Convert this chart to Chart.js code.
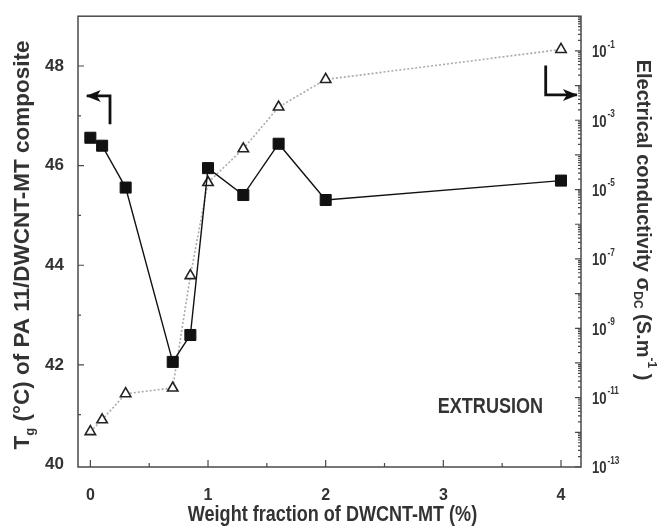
<!DOCTYPE html>
<html>
<head>
<meta charset="utf-8">
<script src="https://cdn.jsdelivr.net/npm/chart.js@4.4.0/dist/chart.umd.min.js"></script>
<style>
  html, body { margin: 0; padding: 0; background: #fff; }
</style>
</head>
<body>
<canvas id="chart" width="668" height="527"></canvas>
<script>
// weight fraction of DWCNT-MT (%)
const weightFraction = [0, 0.1, 0.3, 0.7, 0.85, 1.0, 1.3, 1.6, 2.0, 4.0];
// Tg (°C), left axis
const tgValues = [46.56, 46.40, 45.56, 42.06, 42.60, 45.95, 45.41, 46.44, 45.31, 45.70];
// sigma DC (S/m), right axis (log)
const conductivity = [1.05e-12, 2.3e-12, 1.3e-11, 1.9e-11, 3.3e-8, 1.6e-5, 1.5e-4, 2.4e-3, 1.5e-2, 1.1e-1];

const xTicks = [0, 1, 2, 3, 4];
const tgTicks = [40, 42, 44, 46, 48];
const sigmaExponents = [-1, -3, -5, -7, -9, -11, -13];

const SANS = "'Liberation Sans', Arial, sans-serif";
const TEXT = '#333';
const NARROW_X = 0.82; // no narrow font installed, squeeze instead

// draw a row of text pieces (sub/superscripts) centred on (0,0)
function drawRich(ctx, parts, sx) {
  ctx.save();
  if (sx) ctx.scale(sx, 1);
  let w = 0;
  parts.forEach(p => { ctx.font = p.font; p.w = ctx.measureText(p.t).width; w += p.w; });
  let cx = -w / 2;
  parts.forEach(p => {
    ctx.font = p.font;
    ctx.fillText(p.t, cx, p.dy || 0);
    cx += p.w;
  });
  ctx.restore();
}

function arrow(ctx, pts) {
  ctx.beginPath();
  ctx.moveTo(pts[0][0], pts[0][1]);
  for (let i = 1; i < pts.length; i++) ctx.lineTo(pts[i][0], pts[i][1]);
  ctx.stroke();
  const [x1, y1] = pts[pts.length - 2];
  const [x2, y2] = pts[pts.length - 1];
  const ang = Math.atan2(y2 - y1, x2 - x1);
  ctx.save();
  ctx.translate(x2, y2);
  ctx.rotate(ang);
  ctx.beginPath();
  ctx.moveTo(1, 0);
  ctx.lineTo(-14, -6);
  ctx.lineTo(-10, 0);
  ctx.lineTo(-14, 6);
  ctx.closePath();
  ctx.fill();
  ctx.restore();
}

const framePlugin = {
  id: 'frame',
  afterDraw(chart) {
    const { ctx, chartArea: a, scales: { x, y, y2 } } = chart;
    ctx.save();
    ctx.strokeStyle = '#4a4a4a';
    ctx.lineWidth = 1.5;
    ctx.strokeRect(a.left, a.top, a.right - a.left, a.bottom - a.top);

    ctx.lineWidth = 1.2;
    ctx.beginPath();
    for (let i = 0; i <= 8; i++) {
      const px = x.getPixelForValue(i / 2);
      const len = i % 2 === 0 ? 7 : 4;
      ctx.moveTo(px, a.bottom);
      ctx.lineTo(px, a.bottom - len);
    }
    for (let v = 41; v <= 48; v++) {
      const py = y.getPixelForValue(v);
      const len = v % 2 === 0 ? 6 : 3;
      ctx.moveTo(a.left, py);
      ctx.lineTo(a.left + len, py);
    }
    for (let e = -13; e < 0; e++) {
      for (let m = 1; m <= 9; m++) {
        const py = y2.getPixelForValue(m * Math.pow(10, e));
        const len = m === 1 ? 6 : 3;
        ctx.moveTo(a.right, py);
        ctx.lineTo(a.right - len, py);
      }
    }
    ctx.stroke();

    // right tick labels 10^n
    ctx.fillStyle = TEXT;
    ctx.textBaseline = 'middle';
    ctx.textAlign = 'left';
    sigmaExponents.forEach(e => {
      const py = y2.getPixelForValue(Math.pow(10, e));
      ctx.save();
      ctx.translate(a.right + 11, 0);
      ctx.scale(NARROW_X, 1);
      ctx.font = 'bold 16px ' + SANS;
      ctx.fillText('10', 0, py + 2);
      const w = ctx.measureText('10').width;
      ctx.font = 'bold 10px ' + SANS;
      ctx.fillText('-' + Math.abs(e), w + 1, py - 6);
      ctx.restore();
    });

    // axis titles
    ctx.textAlign = 'left';
    ctx.textBaseline = 'middle';
    ctx.save();
    ctx.translate((a.left + a.right) / 2 + 3, 515);
    drawRich(ctx, [{ t: 'Weight fraction of DWCNT-MT (%)', font: 'bold 22px ' + SANS }], NARROW_X);
    ctx.restore();

    ctx.save();
    ctx.translate(23, 245);
    ctx.rotate(-Math.PI / 2);
    drawRich(ctx, [
      { t: 'T', font: 'bold 22.5px ' + SANS },
      { t: 'g', font: 'bold 13px ' + SANS, dy: 7 },
      { t: ' (°C) of PA 11/DWCNT-MT composite', font: 'bold 22.5px ' + SANS }
    ]);
    ctx.restore();

    ctx.save();
    ctx.translate(643, 220);
    ctx.rotate(Math.PI / 2);
    drawRich(ctx, [
      { t: 'Electrical conductivity σ', font: 'bold 20px ' + SANS },
      { t: 'DC', font: 'bold 12px ' + SANS, dy: 6 },
      { t: ' (S.m', font: 'bold 20px ' + SANS },
      { t: '-1', font: 'bold 12px ' + SANS, dy: -8 },
      { t: ' )', font: 'bold 20px ' + SANS }
    ]);
    ctx.restore();

    // annotation
    ctx.save();
    ctx.translate(x.getPixelForValue(3.40), y.getPixelForValue(41.15));
    drawRich(ctx, [{ t: 'EXTRUSION', font: 'bold 22px ' + SANS }], NARROW_X);
    ctx.restore();

    // arrows pointing at the axes
    ctx.strokeStyle = '#111';
    ctx.fillStyle = '#111';
    ctx.lineWidth = 2.8;
    arrow(ctx, [
      [x.getPixelForValue(0.167), y.getPixelForValue(46.83)],
      [x.getPixelForValue(0.167), y.getPixelForValue(47.40)],
      [x.getPixelForValue(-0.03), y.getPixelForValue(47.40)]
    ]);
    arrow(ctx, [
      [x.getPixelForValue(3.87), y.getPixelForValue(48.01)],
      [x.getPixelForValue(3.87), y.getPixelForValue(47.42)],
      [x.getPixelForValue(4.135), y.getPixelForValue(47.42)]
    ]);
    ctx.restore();
  }
};

new Chart(document.getElementById('chart'), {
  type: 'line',
  data: {
    datasets: [
      {
        label: 'Tg',
        data: weightFraction.map((v, i) => ({ x: v, y: tgValues[i] })),
        yAxisID: 'y',
        borderColor: '#111',
        borderWidth: 1.4,
        pointStyle: 'rect',
        pointRadius: 7.8,
        pointBackgroundColor: '#111',
        pointBorderColor: '#111',
        pointBorderWidth: 1,
        order: 0
      },
      {
        label: 'sigma',
        data: weightFraction.map((v, i) => ({ x: v, y: conductivity[i] })),
        yAxisID: 'y2',
        borderColor: '#aaa',
        borderWidth: 1.6,
        borderDash: [2, 2],
        pointStyle: 'triangle',
        pointRadius: 6,
        pointBackgroundColor: '#fff',
        pointBorderColor: '#222',
        pointBorderWidth: 1.6,
        order: 1
      }
    ]
  },
  options: {
    responsive: false,
    animation: false,
    clip: false,
    layout: { padding: { top: 12, left: 0, right: 0, bottom: 0 } },
    plugins: { legend: { display: false }, tooltip: { enabled: false } },
    scales: {
      x: {
        type: 'linear',
        min: -0.105,
        max: 4.17,
        afterBuildTicks: s => { s.ticks = xTicks.map(v => ({ value: v })); },
        grid: { display: false },
        border: { display: false },
        ticks: { color: TEXT, font: { family: SANS, size: 16, weight: 'bold' }, padding: 11, maxRotation: 0 },
        afterFit: s => { s.height = 60; }
      },
      y: {
        type: 'linear',
        position: 'left',
        min: 39.95,
        max: 49,
        afterBuildTicks: s => { s.ticks = tgTicks.map(v => ({ value: v })); },
        grid: { display: false },
        border: { display: false },
        ticks: { color: TEXT, font: { family: SANS, size: 17, weight: 'bold' }, padding: 6 },
        afterFit: s => { s.width = 78; }
      },
      y2: {
        type: 'logarithmic',
        position: 'right',
        min: 1e-13,
        max: 1,
        grid: { display: false },
        border: { display: false },
        ticks: { display: false },
        afterFit: s => { s.width = 87; }
      }
    }
  },
  plugins: [framePlugin]
});
</script>
</body>
</html>
